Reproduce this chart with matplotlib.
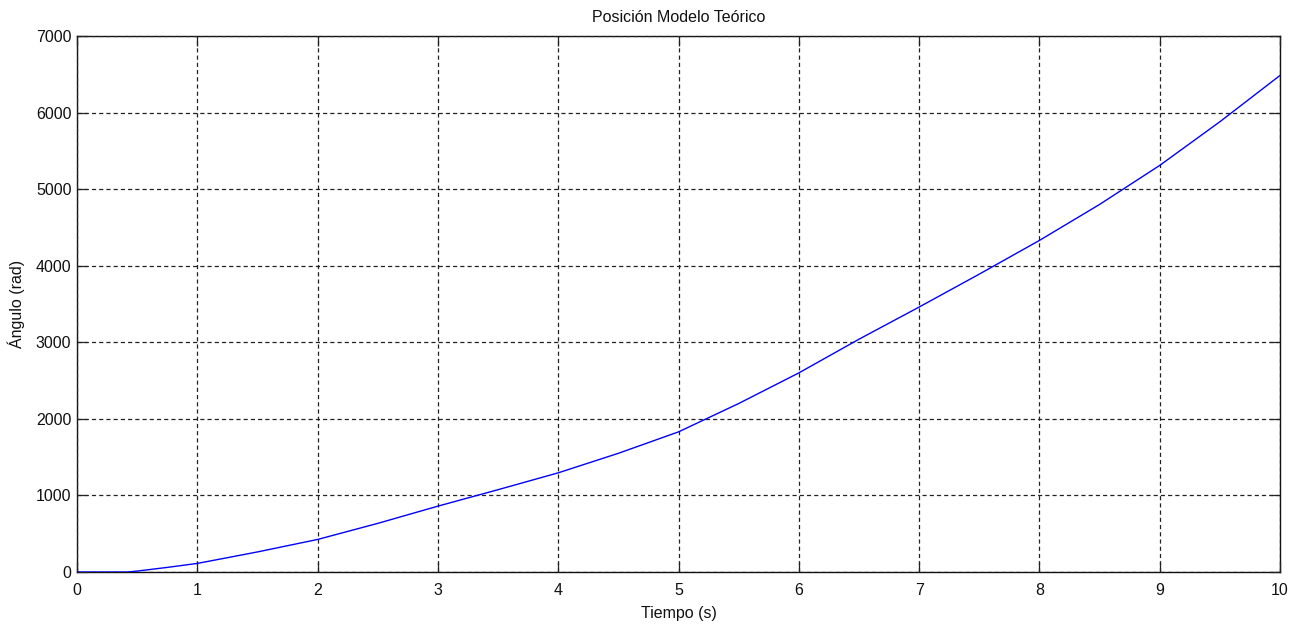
import matplotlib
matplotlib.use("Agg")
import matplotlib.pyplot as plt

# Theoretical model: angular position over time
tiempo_s = [0, 0.25, 0.42, 0.5, 0.75, 1.0, 1.5, 2.0, 2.5, 3.0, 3.5, 4.0, 4.5,
            5.0, 5.5, 6.0, 6.5, 7.0, 7.5, 8.0, 8.5, 9.0, 9.5, 10.0]
angulo_rad = [0, 0, 0, 12, 60, 112, 262, 425, 635, 860, 1075, 1295, 1550,
              1830, 2200, 2600, 3040, 3460, 3890, 4330, 4800, 5310, 5880, 6485]

x_ticks = list(range(0, 11))
y_ticks = list(range(0, 7001, 1000))

plt.rcParams['font.family'] = ['Liberation Sans', 'DejaVu Sans']
plt.rcParams['lines.scale_dashes'] = False

fig = plt.figure(figsize=(13.04, 6.26), dpi=100)
ax = fig.add_axes([77 / 1304, 1 - 572 / 626, (1280 - 77) / 1304, (572 - 36) / 626])

ax.plot(tiempo_s, angulo_rad, color='#0000ff', linewidth=1.0, zorder=3)

ax.set_xlim(0, 10)
ax.set_ylim(0, 7000)
ax.set_xticks(x_ticks)
ax.set_yticks(y_ticks)

ax.grid(True, color='#222222', linestyle=(0, (3, 2.2)), linewidth=0.9)
ax.set_axisbelow(False)

fs = 11.5
ax.tick_params(axis='both', direction='in', length=7, width=0.9, colors='#222222',
               labelcolor='#111111', labelsize=fs, top=True, right=True)
ax.tick_params(axis='x', pad=8)
ax.tick_params(axis='y', pad=4)

for sp in ax.spines.values():
    sp.set_color('#111111')
    sp.set_linewidth(1.0)

ax.set_title('Posición Modelo Teórico', fontsize=fs, color='#111111', pad=10)
ax.set_xlabel('Tiempo (s)', fontsize=fs, color='#111111', labelpad=6)
ax.set_ylabel('Ángulo (rad)', fontsize=fs, color='#111111', labelpad=8)

fig.savefig('out.png', dpi=100, facecolor='white')
